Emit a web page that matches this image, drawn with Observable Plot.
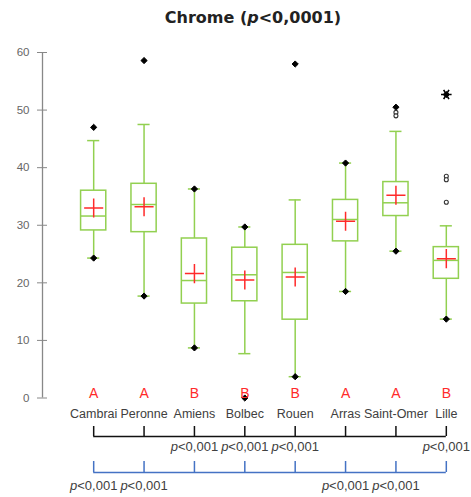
<!DOCTYPE html>
<html><head><meta charset="utf-8">
<script src="https://cdn.jsdelivr.net/npm/d3@7"></script>
<script src="https://cdn.jsdelivr.net/npm/@observablehq/plot@0.6"></script>
<style>
body{margin:0;background:#fff;}
#wrap{position:relative;width:471px;height:497px;}
#title{position:absolute;left:35px;right:0;top:8px;text-align:center;font:bold 16px "DejaVu Sans",sans-serif;color:#222;line-height:normal;}
#wrap svg{position:absolute;left:0;top:0;}
</style></head><body><div id="wrap"><div id="title">Chrome (<i>p</i>&lt;0,0001)</div></div>
<script>
// ---- data ----
const sites = ["Cambrai","Peronne","Amiens","Bolbec","Rouen","Arras","Saint-Omer","Lille"];
const whiskerLow  = [24.3, 17.7,  8.7,  7.7,  3.7, 18.5, 25.5, 13.7];
const q1          = [29.1, 28.8, 16.4, 16.8, 13.6, 27.2, 31.6, 20.7];
const median      = [31.6, 33.6, 20.4, 21.4, 21.8, 31.0, 33.9, 23.9];
const q3          = [36.0, 37.2, 27.7, 26.1, 26.6, 34.4, 37.5, 26.2];
const whiskerHigh = [44.7, 47.5, 36.3, 29.7, 34.4, 40.8, 46.3, 29.9];
const mean        = [33.0, 33.2, 21.6, 20.5, 21.0, 30.7, 35.2, 24.2];
const minimum     = [24.3, 17.7,  8.7,  0.0,  3.7, 18.5, 25.5, 13.7];
const maximum     = [47.0, 58.6, 36.3, 29.7, 58.0, 40.8, 50.5, 52.7];
const groups      = ["A","A","B","B","B","A","A","B"];
const outlierSite  = ["Saint-Omer","Saint-Omer","Lille","Lille","Lille"];
const outlierValue = [49.6, 49.0, 38.5, 37.9, 34.0];
const extremeSite  = ["Lille"];
const extremeValue = [52.7];
const yTicks = [0, 10, 20, 30, 40, 50, 60];
const pText = "p<0,001";
const pUpperSites = ["Amiens","Bolbec","Rouen","Lille"];       // under black bracket
const pLowerSites = ["Cambrai","Peronne","Arras","Saint-Omer"]; // under blue bracket

// ---- layout / style ----
const green = "#92d050", red = "#ff2a2a", blue = "#4472c4";
const boxHalf = 0.25, capHalf = 0.12;
const lvl = {blackLine: -6.69, blackTick: -4.95, blackText: -8.5,
             blueLine: -12.94, blueTick: -11.03, blueText: -15.2};

const rows = sites.map((s, i) => ({site: s, i, wLo: whiskerLow[i], q1: q1[i], med: median[i],
  q3: q3[i], wHi: whiskerHigh[i], mean: mean[i], min: minimum[i], max: maximum[i], group: groups[i]}));
const outliers = outlierSite.map((s, k) => ({i: sites.indexOf(s), v: outlierValue[k]}));
const extremes = extremeSite.map((s, k) => ({i: sites.indexOf(s), v: extremeValue[k]}));
const pUpper = pUpperSites.map(s => ({i: sites.indexOf(s)}));
const pLower = pLowerSites.map(s => ({i: sites.indexOf(s)}));
const xDomain = [-1.016, sites.length - 0.5];
const last = sites.length - 1;

const chart = Plot.plot({
  width: 471, height: 497,
  marginLeft: 42, marginRight: 0, marginTop: 52, marginBottom: 99.5,
  x: {type: "linear", domain: xDomain, axis: null},
  y: {domain: [0, 60], axis: null},
  style: {fontFamily: "'Liberation Sans', Arial, sans-serif", fontSize: "12px", background: "white", overflow: "visible"},
  marks: [
    Plot.ruleX([xDomain[0]], {y1: 0, y2: 60, stroke: "#888", strokeWidth: 1.3}),
    Plot.axisY(yTicks, {tickSize: 10, dx: 5, tickPadding: 8, stroke: "#888", fill: "#666",
      fontSize: 11.5, label: null, tickFormat: d => d}),
    // whiskers
    Plot.ruleX(rows, {x: "i", y1: "wLo", y2: "wHi", stroke: green, strokeWidth: 1.5}),
    Plot.ruleY(rows, {y: "wHi", x1: d => d.i - capHalf, x2: d => d.i + capHalf, stroke: green, strokeWidth: 1.5}),
    Plot.ruleY(rows, {y: "wLo", x1: d => d.i - capHalf, x2: d => d.i + capHalf, stroke: green, strokeWidth: 1.5}),
    // boxes
    Plot.rect(rows, {x1: d => d.i - boxHalf, x2: d => d.i + boxHalf, y1: "q1", y2: "q3",
      fill: "white", stroke: green, strokeWidth: 1.5}),
    Plot.ruleY(rows, {y: "med", x1: d => d.i - boxHalf, x2: d => d.i + boxHalf, stroke: green, strokeWidth: 1.5}),
    // means
    Plot.dot(rows, {x: "i", y: "mean", symbol: "plus", r: 6.2, stroke: red, strokeWidth: 1.5}),
    // min / max
    Plot.dot(rows, {x: "i", y: "min", symbol: "diamond2", r: 2.8, fill: "black", stroke: "black", strokeWidth: 1}),
    Plot.dot(rows, {x: "i", y: "max", symbol: "diamond2", r: 2.8, fill: "black", stroke: "black", strokeWidth: 1}),
    // outliers
    Plot.dot(outliers, {x: "i", y: "v", r: 2, fill: "white", stroke: "#333", strokeWidth: 1.1}),
    Plot.dot(extremes, {x: "i", y: "v", symbol: "asterisk", r: 5, rotate: 90, stroke: "black", strokeWidth: 1.6}),
    // group letters
    Plot.text(rows, {x: "i", y: 0, text: "group", dy: -4, fill: red, fontSize: 14}),
    // site labels
    Plot.text(rows, {x: "i", y: 0, text: "site", dy: 16, fill: "#404040", fontSize: 12.5}),
    // black bracket
    Plot.ruleY([lvl.blackLine], {x1: 0, x2: last, stroke: "#111", strokeWidth: 1.5}),
    Plot.ruleX(rows, {x: "i", y1: lvl.blackLine, y2: lvl.blackTick, stroke: "#111", strokeWidth: 1.5}),
    Plot.text(pUpper, {x: "i", y: lvl.blackText, text: () => pText, fill: "#404040", fontSize: 13}),
    // blue bracket
    Plot.ruleY([lvl.blueLine], {x1: 0, x2: last, stroke: blue, strokeWidth: 1.5}),
    Plot.ruleX(rows, {x: "i", y1: lvl.blueLine, y2: lvl.blueTick, stroke: blue, strokeWidth: 1.5}),
    Plot.text(pLower, {x: "i", y: lvl.blueText, text: () => pText, fill: "#404040", fontSize: 13})
  ]
});

// italic "p" in the p-value labels
const NS = "http://www.w3.org/2000/svg";
chart.querySelectorAll("text").forEach(t => {
  if (t.textContent === pText) {
    t.textContent = "";
    const a = document.createElementNS(NS, "tspan");
    a.setAttribute("font-style", "italic");
    a.textContent = pText.slice(0, 1);
    const b = document.createElementNS(NS, "tspan");
    b.textContent = pText.slice(1);
    t.append(a, b);
  }
});
const wrap = document.getElementById("wrap");
wrap.insertBefore(chart, wrap.firstChild);
</script></body></html>
